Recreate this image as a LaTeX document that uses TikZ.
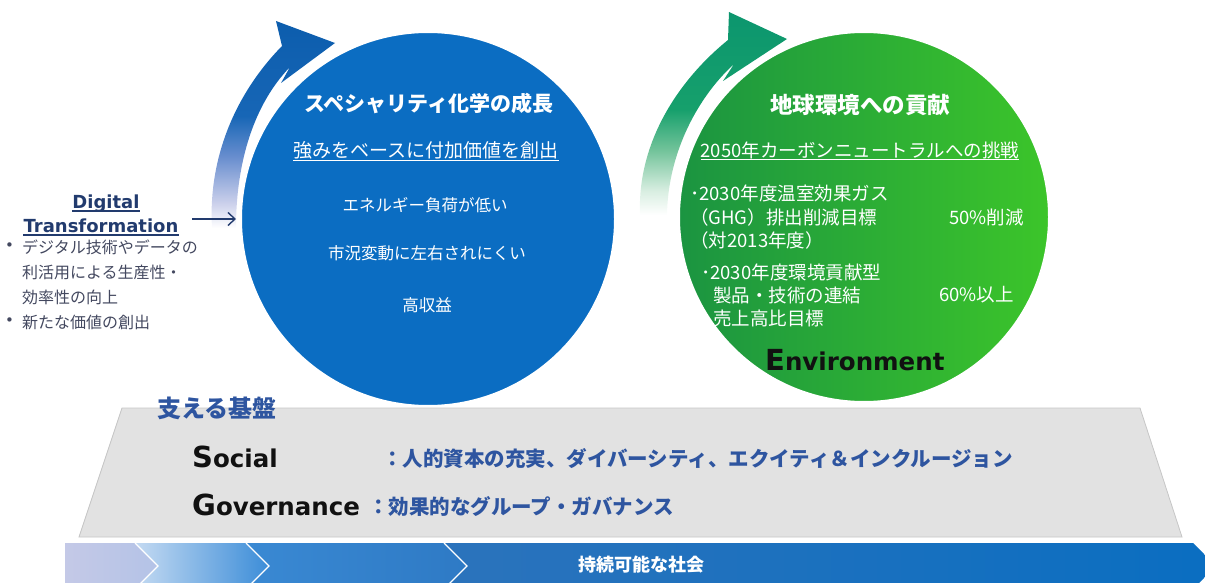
\documentclass[tikz,border=0pt]{standalone}
\usepackage{fontspec}
\setmainfont{DejaVu Sans}
\newfontfamily\jp{Noto Sans CJK JP}
\usetikzlibrary{arrows.meta}
\definecolor{bcirc}{HTML}{0B6DC2}
\definecolor{bdarkA}{HTML}{0C5DAD}
\definecolor{bdarkB}{HTML}{1766B6}
\definecolor{bmid}{HTML}{6A8FCF}
\definecolor{blav}{HTML}{CBD0EB}
\definecolor{gdarkA}{HTML}{0C966E}
\definecolor{gdarkB}{HTML}{16A06C}
\definecolor{gmid}{HTML}{72C39A}
\definecolor{gpale}{HTML}{D8EEE1}
\definecolor{gleft}{HTML}{1B9441}
\definecolor{gright}{HTML}{3CC52A}
\definecolor{navy}{HTML}{223B6E}
\definecolor{bullgray}{HTML}{43485F}
\definecolor{sgblue}{HTML}{2E55A0}
\definecolor{basegray}{HTML}{E2E2E2}
\definecolor{baseedge}{HTML}{C6C6C6}
\definecolor{txtblack}{HTML}{111111}
\definecolor{barA}{HTML}{C4C9E7}
\definecolor{barB}{HTML}{B4C3E7}
\definecolor{barC}{HTML}{C4DAF2}
\definecolor{barD}{HTML}{3C8DD8}
\definecolor{barE}{HTML}{3A89D3}
\definecolor{barF}{HTML}{2E7AC5}
\definecolor{barG}{HTML}{2B73BC}
\definecolor{barH}{HTML}{0A6EC1}
\pgfdeclareverticalshading{bluearrowshade}{100bp}{color(0bp)=(white); color(25bp)=(white); color(31bp)=(blav); color(42bp)=(bmid); color(52bp)=(bdarkB); color(75bp)=(bdarkA); color(100bp)=(bdarkA)}
\pgfdeclareverticalshading{greenarrowshade}{100bp}{color(0bp)=(white); color(25bp)=(white); color(31bp)=(gpale); color(41bp)=(gmid); color(51bp)=(gdarkB); color(75bp)=(gdarkA); color(100bp)=(gdarkA)}
\begin{document}
\begin{tikzpicture}[x=1pt,y=-1pt,
  jpw/.style={text=white, inner sep=0pt, font=\jp\fontsize{16.5}{20}\selectfont},
  jpg/.style={text=white, inner sep=0pt, anchor=west, font=\jp\fontsize{18.5}{22}\selectfont},
  bul/.style={text=bullgray, inner sep=0pt, anchor=west, font=\jp\fontsize{16}{19}\selectfont},
  sgtxt/.style={text=sgblue, inner sep=0pt, anchor=base west, font=\jp\bfseries\fontsize{20.5}{24}\selectfont},
  bigword/.style={text=txtblack, inner sep=0pt, anchor=base west, font=\bfseries\fontsize{24.5}{29}\selectfont},
  seam/.style={white, line width=1.1pt},
]
\useasboundingbox (0,0) rectangle (1205,583);

% base trapezoid
\draw[fill=basegray, draw=baseedge, line width=0.8pt] (122,408) -- (1140,408) -- (1182,537) -- (79,537) -- cycle;

% curved arrows
\shade[shading=bluearrowshade] (212,228) .. controls (208,160) and (234,95) .. (282,46) -- (276,21) -- (335,43) -- (281,83) -- (290,67) .. controls (255,103) and (236,160) .. (236,228) -- cycle;
\shade[shading=greenarrowshade] (640,215) .. controls (637,140) and (681,78) .. (728,40) -- (729,12) -- (787,39) -- (723,81) -- (734,64) .. controls (700,95) and (668,150) .. (667,215) -- cycle;

% circles
\node[circle, fill=bcirc, draw=white, line width=2pt, minimum size=374pt, inner sep=0pt] (bc) at (428,219) {};
\node[circle, left color=gleft, right color=gright, draw=white, line width=2pt, minimum size=370pt, inner sep=0pt] (gc) at (864,217) {};

% blue circle text
\node[jpw, font=\jp\bfseries\fontsize{21}{25}\selectfont] (btitle) at (429,104) {スペシャリティ化学の成長};
\node[jpw, font=\jp\fontsize{19}{23}\selectfont] (bsub) at (426,150) {強みをベースに付加価値を創出};
\draw[white, line width=1pt] ([yshift=-1pt]bsub.south west) -- ([yshift=-1pt]bsub.south east);
\node[jpw] (b1) at (425,205) {エネルギー負荷が低い};
\node[jpw] (b2) at (427,253) {市況変動に左右されにくい};
\node[jpw] (b3) at (427,305) {高収益};

% green circle text
\node[jpw, font=\jp\bfseries\fontsize{22.5}{26}\selectfont] (gtitle) at (860,105) {地球環境への貢献};
\node[jpw, font=\jp\fontsize{18.5}{22}\selectfont] (gsub) at (860,150) {2050年カーボンニュートラルへの挑戦};
\draw[white, line width=1pt] ([yshift=-1pt]gsub.south west) -- ([yshift=-1pt]gsub.south east);
\node[jpg] (g1) at (690,193) {･2030年度温室効果ガス};
\node[jpg] (g2) at (690,217) {（GHG）排出削減目標};
\node[jpg] (g3) at (690,240) {（対2013年度）};
\node[jpg, anchor=east] (g4) at (1024,217) {50\%削減};
\node[jpg] (g5) at (701,272) {･2030年度環境貢献型};
\node[jpg] (g6) at (713,295) {製品・技術の連結};
\node[jpg] (g7) at (713,318) {売上高比目標};
\node[jpg, anchor=east] (g8) at (1014,295) {60\%以上};
\node[bigword] (env) at (765,370) {{\fontsize{29}{30}\selectfont E}nvironment};

% left text
\node[text=navy, inner sep=0pt, anchor=base, font=\bfseries\fontsize{18}{21}\selectfont] (dig) at (106,208) {Digital};
\node[text=navy, inner sep=0pt, anchor=base, font=\bfseries\fontsize{18}{21}\selectfont] (dtr) at (101,232) {Transformation};
\draw[navy, line width=1.1pt] ([yshift=-3pt]dig.base west) -- ([yshift=-3pt]dig.base east);
\draw[navy, line width=1.1pt] ([yshift=-3pt]dtr.base west) -- ([yshift=-3pt]dtr.base east);
\coordinate (arrS) at (192,219);
\draw[navy, line width=1.4pt, -{Straight Barb[length=7pt,width=13pt]}, shorten >=4pt] (arrS) -- (bc.west);
\node[bul, font=\fontsize{15}{16}\selectfont] (dot1) at (5,247) {•};
\node[bul] (l1) at (22,247) {デジタル技術やデータの};
\node[bul] (l2) at (22,272) {利活用による生産性・};
\node[bul] (l3) at (22,297) {効率性の向上};
\node[bul, font=\fontsize{15}{16}\selectfont] (dot2) at (5,322) {•};
\node[bul] (l4) at (22,322) {新たな価値の創出};

% base text
\node[text=sgblue, inner sep=0pt, font=\jp\bfseries\fontsize{24}{28}\selectfont] (kiban) at (217,408) {支える基盤};
\node[bigword] (soc) at (192,467) {{\fontsize{29}{30}\selectfont S}ocial};
\node[bigword] (gov) at (192,515) {{\fontsize{29}{30}\selectfont G}overnance};
\node[sgtxt] (soctx) at (382,466) {：人的資本の充実、ダイバーシティ、エクイティ＆インクルージョン};
\node[sgtxt] (govtx) at (368,514) {：効果的なグループ・ガバナンス};

% bottom bar
\shade[left color=barA, right color=barB] (65,543) -- (135,543) -- (158,566) -- (135,589) -- (65,589) -- cycle;
\shade[left color=barC, right color=barD] (135,543) -- (246,543) -- (269,566) -- (246,589) -- (135,589) -- (158,566) -- cycle;
\shade[left color=barE, right color=barF] (246,543) -- (444,543) -- (467,566) -- (444,589) -- (246,589) -- (269,566) -- cycle;
\shade[left color=barG, right color=barH] (444,543) -- (1193,543) -- (1216,566) -- (1193,589) -- (444,589) -- (467,566) -- cycle;
\draw[seam] (135,543) -- (158,566) -- (135,589);
\draw[seam] (246,543) -- (269,566) -- (246,589);
\draw[seam] (444,543) -- (467,566) -- (444,589);
\node[text=white, inner sep=0pt, font=\jp\bfseries\fontsize{18}{20}\selectfont] (sus) at (641,565) {持続可能な社会};
\end{tikzpicture}
\end{document}
